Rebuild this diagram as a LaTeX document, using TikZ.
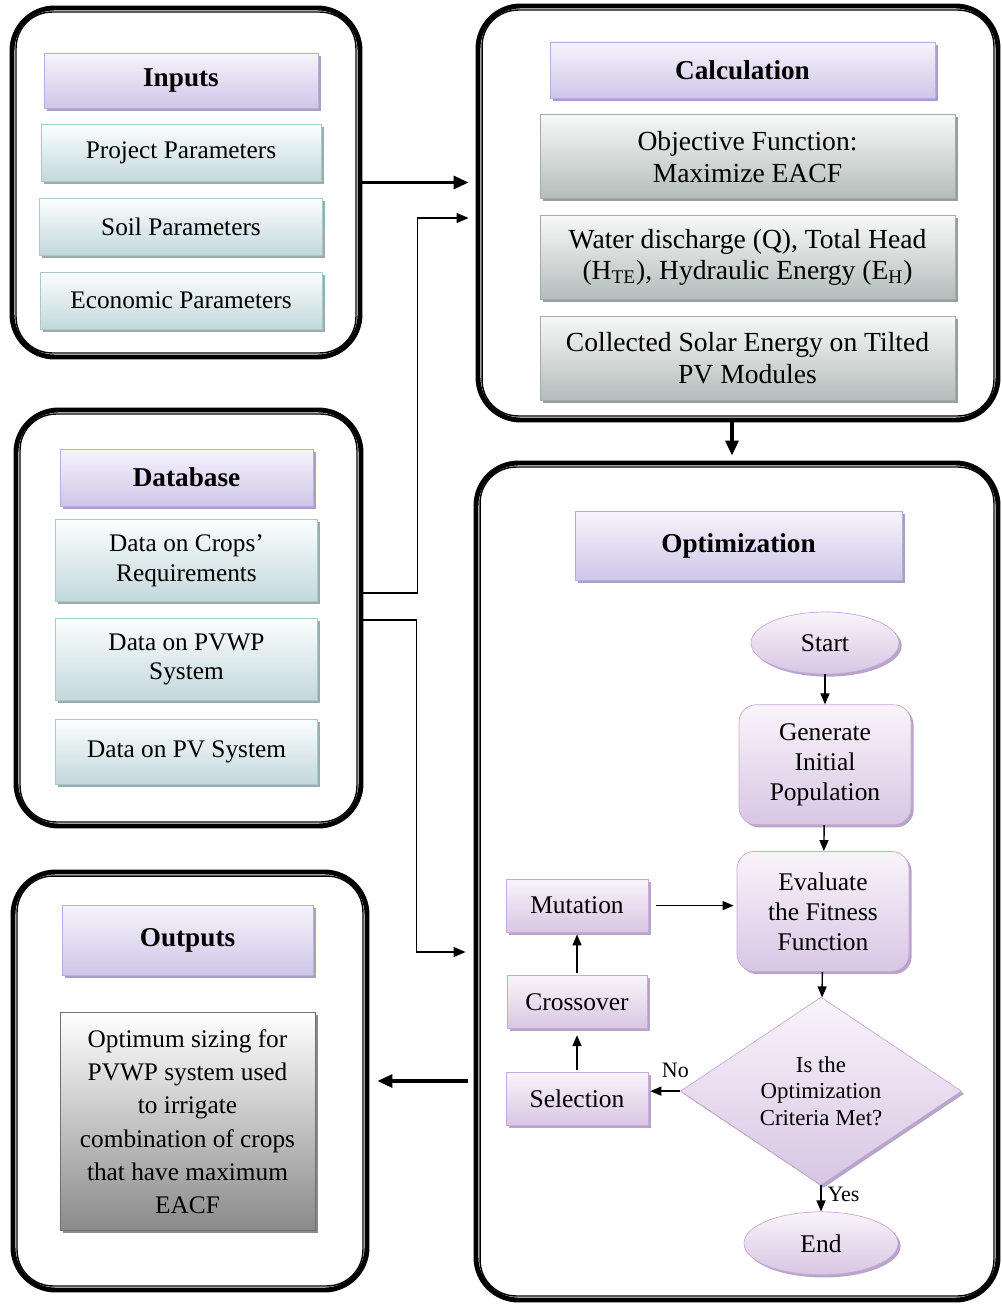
\documentclass[tikz,border=0pt]{standalone}
\usepackage{fontspec}
\setmainfont{Liberation Serif}
\usetikzlibrary{positioning,shapes.geometric,shadows,arrows.meta}
\definecolor{headtop}{HTML}{F6F4FC}
\definecolor{headbot}{HTML}{CEC6E8}
\definecolor{headline}{HTML}{B6AEDC}
\definecolor{headshade}{HTML}{A99EC4}
\definecolor{partop}{HTML}{FCFEFE}
\definecolor{parbot}{HTML}{C2D8DB}
\definecolor{parline}{HTML}{A8C8CC}
\definecolor{parshade}{HTML}{9CACAE}
\definecolor{calctop}{HTML}{F7F8F7}
\definecolor{calcbot}{HTML}{B3BDBB}
\definecolor{calcline}{HTML}{A3ABAA}
\definecolor{calcshade}{HTML}{999E9D}
\definecolor{flowtop}{HTML}{F9F4FA}
\definecolor{flowbot}{HTML}{D8C6E4}
\definecolor{flowline}{HTML}{C8A9D9}
\definecolor{flowshade}{HTML}{B9A4C9}
\definecolor{outbot}{HTML}{8A8A8A}
\definecolor{outline}{HTML}{707070}
\begin{document}
\begin{tikzpicture}[
	frame/.style={draw,line width=2.8pt,rounded corners=0.85cm},
	head/.style={draw=headline,top color=headtop,bottom color=headbot,
		font=\fontsize{15.5}{18}\selectfont\bfseries,
		drop shadow={shadow xshift=1.5pt,shadow yshift=-1.5pt,fill=headshade,opacity=1}},
	param/.style={draw=parline,top color=partop,bottom color=parbot,align=center,
		font=\fontsize{14.4}{17}\selectfont,
		drop shadow={shadow xshift=1.5pt,shadow yshift=-1.5pt,fill=parshade,opacity=1}},
	calcbox/.style={draw=calcline,top color=calctop,bottom color=calcbot,align=center,
		font=\fontsize{15.7}{18.2}\selectfont,minimum width=8.3cm,minimum height=1.68cm,
		drop shadow={shadow xshift=1.5pt,shadow yshift=-1.5pt,fill=calcshade,opacity=1}},
	outbox/.style={draw=outline,top color=white,bottom color=outbot,align=center,
		font=\fontsize{14.4}{18.8}\selectfont,
		drop shadow={shadow xshift=1.5pt,shadow yshift=-1.5pt,fill=outbot,opacity=1}},
	flow/.style={draw=flowline,top color=flowtop,bottom color=flowbot,align=center,
		font=\fontsize{14.5}{17}\selectfont,
		drop shadow={shadow xshift=1.5pt,shadow yshift=-1.5pt,fill=flowshade,opacity=1}},
	big/.style={line width=1.8pt,-{Triangle[length=0.3cm,width=0.26cm]}},
	link/.style={line width=0.7pt,-{Triangle[length=0.24cm,width=0.2cm]}},
	flowarr/.style={line width=0.8pt,-{Triangle[length=0.22cm,width=0.18cm]}}]
\useasboundingbox (0,0) rectangle (20.02,-26.1);

\node[frame,minimum width=6.96cm,minimum height=6.98cm] (inframe) at (3.72,-3.65) {};
\node[frame,minimum width=10.4cm,minimum height=8.28cm] (calcframe) at (14.76,-4.26) {};
\node[frame,minimum width=6.9cm,minimum height=8.32cm] (dbframe) at (3.77,-12.36) {};
\node[frame,minimum width=7.08cm,minimum height=8.36cm] (outframe) at (3.80,-21.62) {};
\node[frame,minimum width=10.44cm,minimum height=16.74cm] (optframe) at (14.74,-17.63) {};
\foreach \f in {inframe,calcframe,dbframe,outframe,optframe}
	\draw[line width=0.8pt,rounded corners=0.72cm]
		([shift={(0.13,-0.13)}]\f.north west) rectangle ([shift={(-0.13,0.13)}]\f.south east);

\node[head,minimum width=5.48cm,minimum height=1.1cm] (inhead) at (3.62,-1.61) {Inputs};
\node[param,minimum width=5.6cm,minimum height=1.14cm,below=0.32cm of inhead] (proj) {Project Parameters};
\node[param,minimum width=5.66cm,minimum height=1.14cm,below=0.32cm of proj] (soil) {Soil Parameters};
\node[param,minimum width=5.64cm,minimum height=1.14cm,below=0.32cm of soil] (econ) {Economic Parameters};

\node[head,minimum width=7.7cm,minimum height=1.12cm] (calchead) at (14.85,-1.40) {Calculation};
\node[calcbox,below=0.32cm of calchead,xshift=0.1cm] (obj) {Objective Function:\\Maximize EACF};
\node[calcbox,below=0.32cm of obj] (water) {Water discharge (Q), Total Head\\(H\textsubscript{TE}), Hydraulic Energy (E\textsubscript{H})};
\node[calcbox,below=0.32cm of water] (solar) {Collected Solar Energy on Tilted\\PV Modules};

\node[head,minimum width=5.06cm,minimum height=1.14cm] (dbhead) at (3.73,-9.55) {Database};
\node[param,minimum width=5.24cm,minimum height=1.64cm,below=0.26cm of dbhead] (crops) {Data on Crops’\\Requirements};
\node[param,minimum width=5.24cm,minimum height=1.64cm,below=0.32cm of crops] (pvwp) {Data on PVWP\\System};
\node[param,minimum width=5.24cm,minimum height=1.3cm,below=0.36cm of pvwp] (pvsys) {Data on PV System};

\node[head,minimum width=5.02cm,minimum height=1.4cm] (outhead) at (3.75,-18.8) {Outputs};
\node[outbox,minimum width=5.1cm,minimum height=4.36cm,below=0.74cm of outhead] (optimum)
	{Optimum sizing for\\PVWP system used\\to irrigate\\combination of crops\\that have maximum\\EACF};

\node[head,minimum width=6.54cm,minimum height=1.38cm] (opthead) at (14.77,-10.91) {Optimization};
\node[flow,ellipse,minimum width=2.96cm,minimum height=1.24cm] (start) at (16.5,-12.86) {Start};
\node[flow,rounded corners=0.35cm,minimum width=3.44cm,minimum height=2.4cm,below=0.6cm of start] (gen) {Generate\\Initial\\Population};
\node[flow,rounded corners=0.35cm,minimum width=3.44cm,minimum height=2.4cm,below=0.52cm of gen,xshift=-0.04cm] (eval) {Evaluate\\the Fitness\\Function};
\node[flow,diamond,aspect=1.5,inner sep=1pt,minimum width=5.62cm,minimum height=3.76cm,
	font=\fontsize{13}{15}\selectfont,below=0.5cm of eval,xshift=-0.04cm] (crit) {Is the\\Optimization\\Criteria Met?};
\node[flow,ellipse,minimum width=3.08cm,minimum height=1.26cm,below=0.52cm of crit] (finish) {End};
\node[flow,minimum width=2.84cm,minimum height=1.06cm] (sel) at (11.54,-21.98) {Selection};
\node[flow,minimum width=2.8cm,minimum height=1.06cm,above=0.86cm of sel] (cross) {Crossover};
\node[flow,minimum width=2.84cm,minimum height=1.06cm,above=0.86cm of cross] (mut) {Mutation};

\draw[big,shorten >=0.14cm] (inframe.east) -- (inframe.east -| calcframe.west);
\draw[link,shorten >=0.14cm] ([yshift=0.5cm]dbframe.east) -- ++(1.08,0) |- ([yshift=-0.1cm]calcframe.west);
\draw[link,shorten >=0.16cm] ([yshift=-0.04cm]dbframe.east) -- ++(1.06,0) |- ([yshift=-1.41cm]optframe.west);
\draw[big,shorten >=0.1cm] ([xshift=-0.12cm]calcframe.south) -- ([xshift=-0.12cm]calcframe.south |- optframe.north);
\draw[big,shorten <=0.12cm,shorten >=0.16cm] (optframe.west |- outframe.east) -- (outframe.east);

\draw[flowarr] (start) -- (gen);
\draw[flowarr] (gen) -- (eval);
\draw[flowarr] (eval) -- (crit);
\draw[flowarr] (crit) -- node[right,pos=0.35,font=\fontsize{12.5}{15}\selectfont]{Yes} (finish);
\draw[flowarr,shorten >=0.04cm] (crit.west) -- node[above,pos=0.15,yshift=4pt,font=\fontsize{12.5}{15}\selectfont]{No} (crit.west -| sel.east);
\draw[flowarr,shorten <=0.04cm,shorten >=0.12cm] (sel) -- (cross);
\draw[flowarr,shorten <=0.04cm,shorten >=0.04cm] (cross) -- (mut);
\draw[flowarr,shorten <=0.16cm,shorten >=0.06cm] (mut) -- (mut -| eval.west);
\end{tikzpicture}
\end{document}
